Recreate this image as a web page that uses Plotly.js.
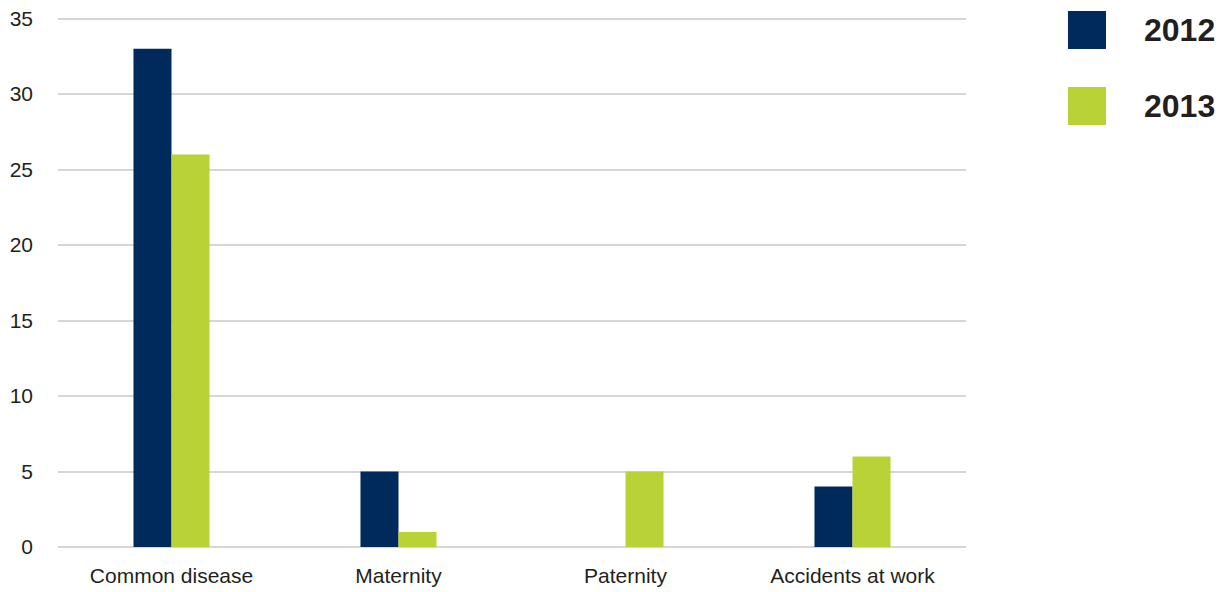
<!DOCTYPE html>
<html>
<head>
<meta charset="utf-8">
<script src="https://cdn.plot.ly/plotly-3.0.1.min.js"></script>
<style>html,body{margin:0;padding:0;background:#fff;}#chart{width:1222px;height:592px;}</style>
</head>
<body>
<div id="chart"></div>
<script>
const categories = ["Common disease", "Maternity", "Paternity", "Accidents at work"];
const seriesNames = ["2012", "2013"];
const values2012 = [33, 5, 0, 4];
const values2013 = [26, 1, 5, 6];
const colors = ["#002a5c", "#b9d336"];
const yTicks = [0, 5, 10, 15, 20, 25, 30, 35];

const traces = [values2012, values2013].map((v, i) => ({
  type: "bar",
  name: seriesNames[i],
  x: categories,
  y: v,
  marker: {color: colors[i], line: {width: 0}},
  hoverinfo: "x+y+name"
}));

// plot area: y from 14 to 547 px (533 px), range 0..35.3
const H = 533;
const py = px => (547 - px) / H;
const shapes = [];
const annotations = [];
const sqTopPx = [11, 87];
const sqSize = 38;
seriesNames.forEach((n, i) => {
  shapes.push({type: "rect", xref: "paper", yref: "paper", x0: 1.1123, x1: 1.1542, y0: py(sqTopPx[i] + sqSize), y1: py(sqTopPx[i]), fillcolor: colors[i], line: {width: 0}});
  annotations.push({xref: "paper", yref: "paper", x: 1.194, y: py(sqTopPx[i] + sqSize / 2), xanchor: "left", yanchor: "middle", text: "<b>" + n + "</b>", showarrow: false, font: {family: "Liberation Sans, Arial, sans-serif", size: 32, color: "#231f20"}});
});

const layout = {
  width: 1222, height: 592,
  margin: {l: 58, r: 256, t: 14, b: 45, pad: 0},
  paper_bgcolor: "#ffffff", plot_bgcolor: "#ffffff",
  font: {family: "Liberation Sans, Arial, sans-serif", size: 21, color: "#231f20"},
  showlegend: false,
  barmode: "group",
  bargap: 0.665,
  bargroupgap: 0,
  xaxis: {showgrid: false, showline: false, zeroline: false, ticks: "", ticklabelstandoff: 14, fixedrange: true},
  yaxis: {range: [0, 35.3], tickvals: yTicks, showgrid: true, gridcolor: "#d6d6d6", gridwidth: 2, zeroline: true, zerolinecolor: "#d6d6d6", zerolinewidth: 2, showline: false, ticks: "", ticklabelstandoff: 24, fixedrange: true},
  shapes: shapes,
  annotations: annotations
};

Plotly.newPlot("chart", traces, layout, {displayModeBar: false, staticPlot: true});
</script>
</body>
</html>
